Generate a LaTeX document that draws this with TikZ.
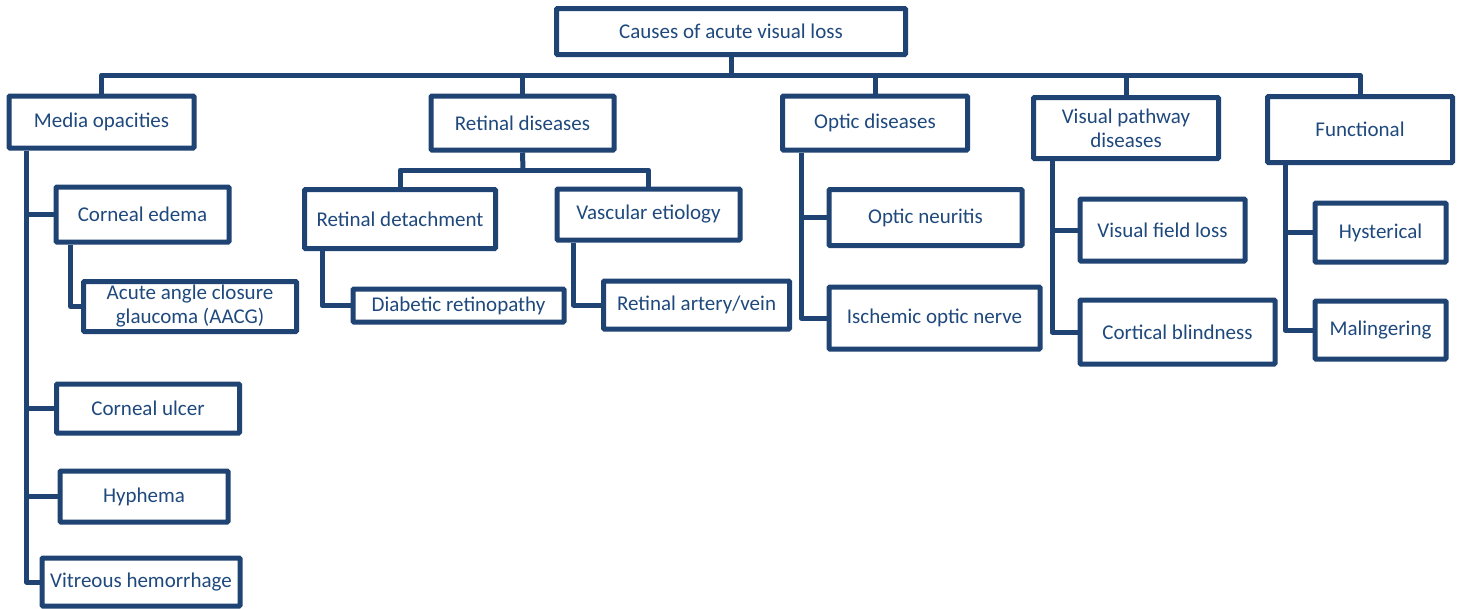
\documentclass[tikz,border=0pt]{standalone}
\usepackage{fontspec}
\setmainfont{Carlito}
\definecolor{navy}{HTML}{1F4372}
\definecolor{navytext}{HTML}{1F497D}
\begin{document}
\begin{tikzpicture}[x=1pt, y=-1pt,
    box/.style={draw=navy, line width=5pt, rounded corners=1pt, fill=white,
                text=navytext, font=\fontsize{21}{24}\selectfont, align=center,
                inner sep=0pt},
    link/.style={draw=navy, line width=5pt, line join=round}]
        \useasboundingbox (0,0) rectangle (1463,608);

        % --- Top level ---
        \node[box, minimum width=349, minimum height=46] (root) at (731,31.5) {Causes of acute visual loss};

        % --- Main groups ---
        \node[box, minimum width=185, minimum height=52] (media)  at (101.5,122) {Media opacities};
        \node[box, minimum width=183, minimum height=54] (retina) at (522.5,123) {Retinal diseases};
        \node[box, minimum width=185, minimum height=54] (optic)  at (875,123)   {Optic diseases};
        \node[box, minimum width=185, minimum height=61] (vpath)  at (1126,128)  {Visual pathway\\diseases};
        \node[box, minimum width=185, minimum height=66] (func)   at (1360,129.5) {Functional};

        % --- Media opacities branch ---
        \node[box, minimum width=173, minimum height=55] (edema)    at (142.5,214.5) {Corneal edema};
        \node[box, minimum width=213, minimum height=50] (aacg)     at (190,306.5)   {Acute angle closure\\glaucoma (AACG)};
        \node[box, minimum width=183, minimum height=49] (ulcer)    at (148,408.5)   {Corneal ulcer};
        \node[box, minimum width=168, minimum height=51] (hyphema)  at (144,496.5)   {Hyphema};
        \node[box, minimum width=198, minimum height=48] (vitreous) at (141,582)     {Vitreous hemorrhage};

        % --- Retinal diseases branch ---
        \node[box, minimum width=191, minimum height=59] (detach) at (400,219)     {Retinal detachment};
        \node[box, minimum width=183, minimum height=51] (vasc)   at (648.5,214.5) {Vascular etiology};
        \node[box, minimum width=211, minimum height=33] (diab)   at (458.5,305.5) {Diabetic retinopathy};
        \node[box, minimum width=186, minimum height=48] (artery) at (696.5,305)   {Retinal artery/vein};

        % --- Optic diseases branch ---
        \node[box, minimum width=193, minimum height=56] (neuritis) at (925.5,217.5) {Optic neuritis};
        \node[box, minimum width=211, minimum height=62] (ischemic) at (934.5,318)   {Ischemic optic nerve};

        % --- Visual pathway branch ---
        \node[box, minimum width=165, minimum height=62] (vfl)      at (1162.5,230) {Visual field loss};
        \node[box, minimum width=195, minimum height=64] (cortical) at (1177.5,332) {Cortical blindness};

        % --- Functional branch ---
        \node[box, minimum width=131, minimum height=59] (hyst)   at (1380.5,232.5) {Hysterical};
        \node[box, minimum width=131, minimum height=58] (maling) at (1380.5,330)   {Malingering};

        % --- Bus from the top box ---
        \coordinate (bus) at (731,75);
        \draw[link] (root.south) -- (bus);
        \draw[link] (media.north) |- (bus) -| (func.north);
        \draw[link] (retina.north) -- (retina.north |- bus);
        \draw[link] (optic.north) -- (optic.north |- bus);
        \draw[link] (vpath.north) -- (vpath.north |- bus);

        % --- Media opacities connectors ---
        \coordinate (mspine) at ([xshift=20pt]media.south west);
        \draw[link] (mspine) |- (vitreous.west);
        \draw[link] (mspine |- edema.west) -- (edema.west);
        \draw[link] (mspine |- ulcer.west) -- (ulcer.west);
        \draw[link] (mspine |- hyphema.west) -- (hyphema.west);
        \draw[link] ([xshift=17pt]edema.south west) |- (aacg.west);

        % --- Retinal diseases connectors ---
        \coordinate (rsplit) at (523,170);
        \draw[link] (retina.south) -- (rsplit);
        \draw[link] (detach.north) |- (rsplit) -| (vasc.north);
        \draw[link] ([xshift=20pt]detach.south west) |- (diab.west);
        \draw[link] ([xshift=19pt]vasc.south west) |- (artery.west);

        % --- Optic diseases connectors ---
        \coordinate (ospine) at ([xshift=21pt]optic.south west);
        \draw[link] (ospine) |- (ischemic.west);
        \draw[link] (ospine |- neuritis.west) -- (neuritis.west);

        % --- Visual pathway connectors ---
        \coordinate (vspine) at ([xshift=21pt]vpath.south west);
        \draw[link] (vspine) |- (cortical.west);
        \draw[link] (vspine |- vfl.west) -- (vfl.west);

        % --- Functional connectors ---
        \coordinate (fspine) at ([xshift=20pt]func.south west);
        \draw[link] (fspine) |- (maling.west);
        \draw[link] (fspine |- hyst.west) -- (hyst.west);
\end{tikzpicture}
\end{document}
